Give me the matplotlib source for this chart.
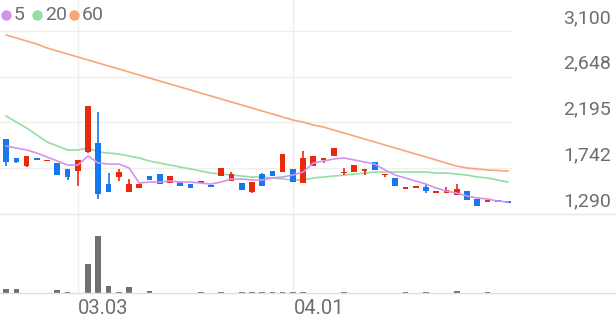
import matplotlib
matplotlib.use("Agg")
import matplotlib.pyplot as plt
import matplotlib.transforms as mtrans
from matplotlib.lines import Line2D
from matplotlib.patches import Rectangle

plt.rcParams['font.family'] = ['Roboto', 'DejaVu Sans']

# daily candles (open, high, low, close)
opens = [2032, 1844, 1765, 1844, 1814, 1794, 1735, 1715, 1903, 1992,
         1587, 1656, 1508, 1547, 1666, 1686, 1597, 1606, 1587, 1597,
         1577, 1666, 1616, 1597, 1508, 1686, 1715, 1705, 1735, 1597,
         1765, 1824, 1864, 1700, 1705, 1715, 1804, 1676, 1646, 1545,
         1555, 1557, 1505, 1498, 1478, 1517, 1438, 1416, 1421, 1411]
highs = [2032, 1844, 1864, 1844, 1824, 1794, 1735, 1824, 2358, 2299,
         1695, 1735, 1636, 1587, 1666, 1686, 1666, 1606, 1587, 1616,
         1577, 1745, 1705, 1597, 1606, 1695, 1715, 1883, 1735, 1913,
         1864, 1844, 1943, 1745, 1775, 1735, 1804, 1686, 1646, 1555,
         1565, 1577, 1515, 1557, 1587, 1517, 1438, 1426, 1421, 1411]
lows = [1765, 1794, 1755, 1824, 1814, 1676, 1626, 1567, 1893, 1438,
        1508, 1616, 1508, 1547, 1626, 1587, 1597, 1567, 1547, 1597,
        1557, 1666, 1616, 1527, 1498, 1567, 1666, 1705, 1606, 1597,
        1765, 1794, 1864, 1676, 1705, 1676, 1725, 1656, 1567, 1540,
        1550, 1498, 1500, 1498, 1478, 1428, 1369, 1411, 1416, 1406]
closes = [1804, 1804, 1864, 1824, 1824, 1676, 1656, 1824, 2358, 1488,
          1508, 1705, 1587, 1587, 1626, 1587, 1666, 1567, 1547, 1616,
          1557, 1745, 1686, 1527, 1606, 1567, 1666, 1883, 1606, 1844,
          1864, 1844, 1943, 1705, 1775, 1735, 1725, 1686, 1567, 1550,
          1560, 1517, 1510, 1527, 1537, 1428, 1369, 1421, 1416, 1406]
volumes = [4, 4, 0.3, 0.3, 0.3, 3, 1, 0.5, 29, 57,
           7, 1.5, 6, 0.5, 2, 0.5, 0.5, 0.5, 0.5, 0.8,
           0.5, 0.8, 0.5, 1.5, 1.5, 1.5, 1.5, 1.5, 1.5, 1,
           0.5, 0.5, 0.5, 1.5, 0.5, 0.5, 0.5, 0.5, 0.5, 1.2,
           0.5, 1.5, 0.5, 0.5, 2, 0.5, 0.5, 1.5, 0.5, 0.3]

ma5 = [1962, 1942, 1923, 1893, 1854, 1814, 1774, 1774, 1863, 1794,
       1784, 1784, 1745, 1596, 1606, 1606, 1616, 1606, 1606, 1596,
       1586, 1606, 1636, 1636, 1626, 1626, 1646, 1656, 1675, 1705,
       1794, 1814, 1834, 1844, 1824, 1804, 1784, 1725, 1675, 1646,
       1616, 1586, 1547, 1517, 1497, 1468, 1448, 1438, 1418, 1408]
ma20 = [2259, 2199, 2140, 2071, 2002, 1962, 1923, 1923, 1942, 1903,
        1893, 1883, 1863, 1844, 1814, 1794, 1774, 1754, 1735, 1715,
        1695, 1685, 1675, 1665, 1656, 1656, 1646, 1636, 1626, 1626,
        1646, 1656, 1665, 1675, 1685, 1695, 1705, 1705, 1705, 1705,
        1705, 1705, 1695, 1695, 1685, 1675, 1656, 1646, 1626, 1606]
ma60 = [3060, 3030, 3000, 2971, 2931, 2902, 2872, 2842, 2813, 2783,
        2753, 2724, 2694, 2664, 2635, 2605, 2575, 2546, 2516, 2486,
        2457, 2427, 2397, 2368, 2338, 2308, 2279, 2249, 2219, 2199,
        2170, 2150, 2120, 2091, 2061, 2031, 2002, 1972, 1942, 1913,
        1883, 1854, 1824, 1794, 1764, 1745, 1735, 1725, 1720, 1715]

price_ticks = [1290, 1742.5, 2195, 2647.5, 3100]
price_labels = ["1,290", "1,742", "2,195", "2,648", "3,100"]
date_pos = [7, 28]
date_labels = ["03.03", "04.01"]

up_col = '#e8290b'
down_col = '#1677ee'
c5, c20, c60 = '#d492ee', '#94dea3', '#f8a47c'
grid_col = '#efefef'
txt_col = '#6e6e6e'

W, H = 616, 321
fig = plt.figure(figsize=(W / 100, H / 100), dpi=100)
ax = fig.add_axes([0, (H - 214) / H, 512 / W, 214 / H])
axv = fig.add_axes([0, (H - 293) / H, 512 / W, 79 / H])

n = len(closes)
for a in (ax, axv):
    a.set_xlim(-0.6, n - 0.6)
    for s in a.spines.values():
        s.set_visible(False)
    a.set_xticks([])
    a.set_yticks([])
    for p in date_pos:
        a.axvline(p, color=grid_col, lw=1, zorder=0)

ax.set_ylim(1290, 3406)
for t in price_ticks[1:]:
    ax.axhline(t, color=grid_col, lw=1, zorder=0)

# candles
bw = 0.56
for i in range(n):
    o, h, l, c = opens[i], highs[i], lows[i], closes[i]
    col = up_col if c >= o else down_col
    ax.vlines(i, l, h, color=col, lw=1.2, zorder=3)
    lo, hi = min(o, c), max(o, c)
    if hi - lo < 14:
        mid = (hi + lo) / 2
        lo, hi = mid - 7, mid + 7
    ax.add_patch(Rectangle((i - bw / 2, lo), bw, hi - lo, color=col, lw=0, zorder=4))

xs = list(range(n))
ax.plot(xs, ma60, color=c60, lw=1.2, zorder=2)
ax.plot(xs, ma20, color=c20, lw=1.2, zorder=2)
ax.plot(xs, ma5, color=c5, lw=1.2, zorder=5)

# price labels on the right, above their gridlines
tr = mtrans.blended_transform_factory(fig.transFigure, ax.transData)
for t, lab in zip(price_ticks, price_labels):
    ax.text(611 / W, t + 40, lab, transform=tr, ha='right', va='bottom',
            fontsize=14, color=txt_col)

# volume
axv.bar(xs, volumes, width=bw, color='#707070', zorder=3)
axv.set_ylim(0, 79)

trd = mtrans.blended_transform_factory(axv.transData, fig.transFigure)
for p, lab in zip(date_pos, date_labels):
    axv.text(p + 0.05, (H - 309) / H, lab, transform=trd, ha='left', va='center',
             fontsize=14.5, color=txt_col)

# full-width base lines
fig.add_artist(Line2D([0, 1], [(H - 213.5) / H] * 2, color='#e6e6e6', lw=1))
fig.add_artist(Line2D([0, 1], [(H - 293) / H] * 2, color='#e0e0e0', lw=1))

# legend
for xp, col, lab in [(6, c5, "5"), (37, c20, "20"), (74, c60, "60")]:
    fig.add_artist(Line2D([xp / W], [(H - 15) / H], marker='o', markersize=7.5,
                          color=col, markeredgewidth=0))
    fig.text((xp + 8) / W, (H - 15) / H, lab, ha='left', va='center',
             fontsize=14, color=txt_col)

fig.savefig("out.png", dpi=100)
